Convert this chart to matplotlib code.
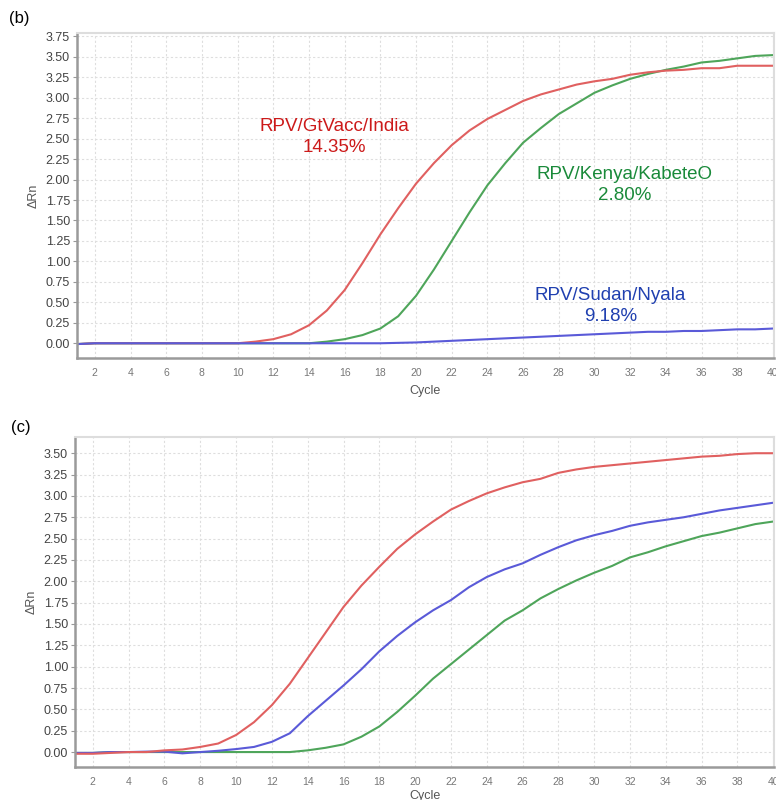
import matplotlib
matplotlib.use("Agg")
import matplotlib.pyplot as plt

plt.rcParams['font.family'] = ['Liberation Sans', 'DejaVu Sans']

cycles = list(range(1, 41))

# panel (b)
b_india = [-0.01, 0, 0, 0, 0, 0, 0, 0, 0, 0.0,
           0.02, 0.05, 0.11, 0.22, 0.40, 0.65, 0.98, 1.33, 1.65, 1.95,
           2.20, 2.42, 2.60, 2.74, 2.85, 2.96, 3.04, 3.10, 3.16, 3.20,
           3.23, 3.28, 3.31, 3.33, 3.34, 3.36, 3.36, 3.39, 3.39, 3.39]
b_kenya = [-0.01, 0, 0, 0, 0, 0, 0, 0, 0, 0,
           0, 0, 0, 0.0, 0.02, 0.05, 0.10, 0.18, 0.33, 0.58,
           0.90, 1.25, 1.60, 1.93, 2.20, 2.45, 2.63, 2.80, 2.93, 3.06,
           3.15, 3.23, 3.29, 3.34, 3.38, 3.43, 3.45, 3.48, 3.51, 3.52]
b_sudan = [-0.01, 0, 0, 0, 0, 0, 0, 0, 0, 0,
           0, 0, 0, 0, 0, 0, 0, 0, 0.005, 0.01,
           0.02, 0.03, 0.04, 0.05, 0.06, 0.07, 0.08, 0.09, 0.10, 0.11,
           0.12, 0.13, 0.14, 0.14, 0.15, 0.15, 0.16, 0.17, 0.17, 0.18]

# panel (c)
c_red = [-0.02, -0.02, -0.01, 0.0, 0.0, 0.02, 0.03, 0.06, 0.10, 0.20,
         0.35, 0.55, 0.80, 1.10, 1.40, 1.70, 1.95, 2.17, 2.38, 2.55,
         2.70, 2.84, 2.94, 3.03, 3.10, 3.16, 3.20, 3.27, 3.31, 3.34,
         3.36, 3.38, 3.40, 3.42, 3.44, 3.46, 3.47, 3.49, 3.50, 3.50]
c_blue = [-0.01, -0.01, 0.0, 0.0, 0.005, 0.005, -0.015, 0.0, 0.015, 0.035,
          0.06, 0.12, 0.22, 0.42, 0.60, 0.78, 0.97, 1.18, 1.36, 1.52,
          1.66, 1.78, 1.93, 2.05, 2.14, 2.21, 2.31, 2.40, 2.48, 2.54,
          2.59, 2.65, 2.69, 2.72, 2.75, 2.79, 2.83, 2.86, 2.89, 2.92]
c_green = [-0.01, -0.01, 0, 0, 0, 0, 0, 0, 0, 0,
           0, 0, 0, 0.02, 0.05, 0.09, 0.18, 0.30, 0.47, 0.66,
           0.86, 1.03, 1.20, 1.37, 1.54, 1.66, 1.80, 1.91, 2.01, 2.10,
           2.18, 2.28, 2.34, 2.41, 2.47, 2.53, 2.57, 2.62, 2.67, 2.70]

xticks = list(range(2, 41, 2))
b_yticks = [0.0, 0.25, 0.5, 0.75, 1.0, 1.25, 1.5, 1.75, 2.0, 2.25, 2.5, 2.75, 3.0, 3.25, 3.5, 3.75]
c_yticks = b_yticks[:-1]

RED = '#e06060'
GREEN = '#4ea55a'
BLUE = '#5a5ad8'


def style(ax, yticks, ylim, xpad):
    ax.set_xlim(1, 40.05)
    ax.set_ylim(*ylim)
    ax.set_xticks(xticks)
    ax.set_yticks(yticks)
    ax.set_yticklabels([f'{v:.2f}' for v in yticks])
    ax.grid(True, color='#dedede', linestyle=(0, (2, 2)), linewidth=0.8)
    ax.set_axisbelow(True)
    for s in ['left', 'bottom']:
        ax.spines[s].set_color('#9a9a9a')
        ax.spines[s].set_linewidth(1.8)
    for s in ['top', 'right']:
        ax.spines[s].set_color('#dddddd')
        ax.spines[s].set_linewidth(1.5)
    ax.tick_params(axis='y', labelsize=9, labelcolor='#444444', color='#999999', length=3, pad=2)
    ax.tick_params(axis='x', labelsize=7.5, labelcolor='#777777', length=0, pad=7)
    ax.set_xlabel('Cycle', fontsize=9, color='#555555', labelpad=xpad)
    ax.set_ylabel('ΔRn', fontsize=9, color='#555555', labelpad=4)


fig = plt.figure(figsize=(7.76, 8.0), dpi=100)

ax1 = fig.add_axes([0.0992, 0.5525, 0.898, 0.40625])
ax1.plot(cycles, b_kenya, color=GREEN, lw=1.5)
ax1.plot(cycles, b_india, color=RED, lw=1.5)
ax1.plot(cycles, b_sudan, color=BLUE, lw=1.5)
style(ax1, b_yticks, (-0.18, 3.79), 5)
ax1.text(15.4, 2.52, 'RPV/GtVacc/India\n14.35%', color='#cc1a1a', fontsize=13.5,
         ha='center', va='center', linespacing=1.3)
ax1.text(31.7, 1.93, 'RPV/Kenya/KabeteO\n2.80%', color='#1a8a3a', fontsize=13.5,
         ha='center', va='center', linespacing=1.3)
ax1.text(30.9, 0.46, 'RPV/Sudan/Nyala\n9.18%', color='#2040b0', fontsize=13.5,
         ha='center', va='center', linespacing=1.3)

ax2 = fig.add_axes([0.0966, 0.04125, 0.901, 0.4125])
ax2.plot(cycles, c_green, color=GREEN, lw=1.5)
ax2.plot(cycles, c_blue, color=BLUE, lw=1.5)
ax2.plot(cycles, c_red, color=RED, lw=1.5)
style(ax2, c_yticks, (-0.175, 3.69), 2)

fig.text(0.012, 0.977, '(b)', fontsize=12, va='center')
fig.text(0.014, 0.466, '(c)', fontsize=12, va='center')

fig.savefig('out.png', dpi=100)
